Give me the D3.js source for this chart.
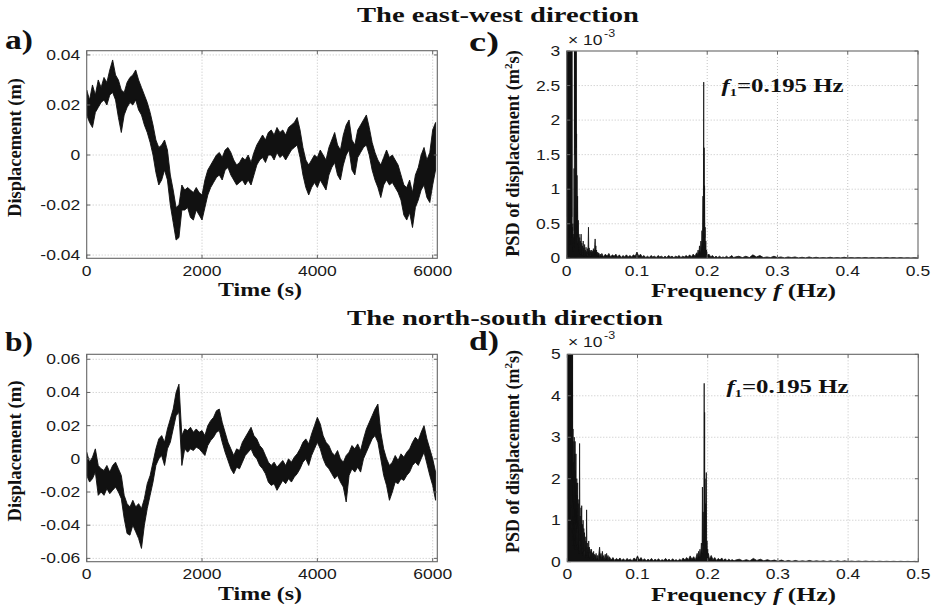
<!DOCTYPE html>
<html>
<head>
<meta charset="utf-8">
<script src="https://cdn.jsdelivr.net/npm/d3@7"></script>
<style>
  body { margin: 0; background: #fff; }
  svg { display: block; }
</style>
</head>
<body>
<svg id="fig" width="936" height="610"></svg>
<script>
// ---------------------------------------------------------------
// Displacement records (m): peak and trough read in each 50 s window
// ---------------------------------------------------------------
const windowStart = d3.range(0, 6100, 50);   // 0 ... 6050 s

const ewPeak = [
  0.026, 0.022, 0.028, 0.024, 0.030, 0.027, 0.031, 0.029, 0.034, 0.038,
  0.032, 0.030, 0.026, 0.025, 0.029, 0.031, 0.032, 0.034, 0.030, 0.027,
  0.024, 0.021, 0.017, 0.012, 0.006, 0.003, 0.004, 0.006, 0.002, -0.008,
  -0.014, -0.021, -0.020, -0.012, -0.014, -0.013, -0.014, -0.015, -0.013, -0.015,
  -0.016, -0.010, -0.006, -0.004, -0.002, 0.000, 0.001, -0.001, 0.002, 0.003,
  0.001, -0.002, -0.004, -0.003, -0.001, -0.002, 0.000, -0.003, 0.001, 0.004,
  0.006, 0.008, 0.006, 0.009, 0.010, 0.008, 0.011, 0.009, 0.010, 0.008,
  0.011, 0.012, 0.013, 0.015, 0.010, 0.003, -0.002, -0.004, -0.002, 0.000,
  -0.001, 0.002, 0.000, -0.002, 0.003, 0.006, 0.009, 0.004, 0.002, 0.008,
  0.012, 0.014, 0.006, 0.004, 0.010, 0.012, 0.014, 0.016, 0.011, 0.005,
  0.001, -0.002, -0.004, -0.001, 0.002, -0.001, 0.000, -0.002, -0.004, -0.008,
  -0.012, -0.013, -0.010, -0.015, -0.008, -0.005, 0.000, 0.003, -0.002, 0.001,
  0.010, 0.013
];
const ewTrough = [
  0.016, 0.013, 0.011, 0.017, 0.019, 0.021, 0.022, 0.020, 0.024, 0.025,
  0.022, 0.015, 0.009, 0.016, 0.019, 0.021, 0.020, 0.022, 0.018, 0.016,
  0.012, 0.009, 0.005, 0.000, -0.007, -0.012, -0.010, -0.006, -0.010, -0.020,
  -0.027, -0.034, -0.033, -0.022, -0.022, -0.021, -0.025, -0.026, -0.022, -0.024,
  -0.026, -0.021, -0.016, -0.013, -0.011, -0.009, -0.008, -0.010, -0.006, -0.005,
  -0.008, -0.010, -0.012, -0.011, -0.010, -0.012, -0.010, -0.012, -0.008, -0.004,
  -0.002, -0.001, -0.003, 0.000, 0.000, -0.002, 0.001, -0.001, 0.000, -0.002,
  0.000, 0.002, 0.003, 0.004, -0.001, -0.008, -0.013, -0.016, -0.013, -0.011,
  -0.013, -0.010, -0.012, -0.014, -0.008, -0.005, -0.003, -0.008, -0.010, -0.004,
  0.000, 0.002, -0.006, -0.008, -0.001, 0.001, 0.003, 0.004, 0.000, -0.006,
  -0.010, -0.013, -0.017, -0.012, -0.010, -0.012, -0.011, -0.013, -0.015, -0.018,
  -0.024, -0.026, -0.023, -0.029, -0.021, -0.018, -0.014, -0.012, -0.017, -0.019,
  -0.012, -0.006
];

const nsPeak = [
  0.004, -0.002, 0.001, 0.006, -0.004, -0.006, -0.007, -0.004, -0.008, -0.004,
  -0.002, -0.006, -0.010, -0.022, -0.027, -0.029, -0.025, -0.029, -0.027, -0.030,
  -0.024, -0.015, -0.010, -0.002, 0.006, 0.012, 0.014, 0.010, 0.018, 0.024,
  0.030, 0.040, 0.045, 0.014, 0.018, 0.017, 0.019, 0.016, 0.018, 0.016,
  0.017, 0.014, 0.020, 0.023, 0.025, 0.029, 0.030, 0.022, 0.016, 0.010,
  0.006, 0.002, 0.006, 0.005, 0.010, 0.013, 0.016, 0.019, 0.014, 0.012,
  0.008, 0.006, 0.002, -0.002, -0.004, -0.002, -0.005, -0.003, -0.001, -0.004,
  0.000, -0.002, 0.001, 0.003, 0.006, 0.010, 0.012, 0.009, 0.015, 0.020,
  0.025, 0.021, 0.014, 0.010, 0.008, 0.004, 0.002, 0.005, 0.000, -0.002,
  0.002, 0.004, 0.008, 0.006, 0.009, 0.005, 0.012, 0.018, 0.022, 0.026,
  0.030, 0.033, 0.016, 0.006, 0.000, -0.004, -0.002, 0.002, -0.001, 0.003,
  0.001, 0.004, 0.006, 0.010, 0.013, 0.011, 0.016, 0.020, 0.012, 0.006,
  0.000, -0.008
];
const nsTrough = [
  -0.010, -0.014, -0.012, -0.008, -0.022, -0.020, -0.022, -0.018, -0.021, -0.019,
  -0.017, -0.020, -0.024, -0.036, -0.045, -0.046, -0.040, -0.044, -0.048, -0.054,
  -0.040, -0.030, -0.022, -0.014, -0.004, 0.000, 0.002, -0.004, 0.006, 0.010,
  0.018, 0.026, 0.028, -0.004, 0.006, 0.004, 0.006, 0.005, 0.007, 0.006,
  0.004, 0.002, 0.008, 0.011, 0.013, 0.016, 0.017, 0.010, 0.004, -0.001,
  -0.006, -0.009, -0.005, -0.006, -0.002, 0.002, 0.004, 0.006, 0.002, 0.000,
  -0.004, -0.006, -0.009, -0.014, -0.016, -0.015, -0.019, -0.016, -0.013, -0.015,
  -0.012, -0.014, -0.011, -0.009, -0.006, -0.002, 0.000, -0.004, 0.002, 0.006,
  0.010, 0.006, 0.000, -0.004, -0.006, -0.009, -0.012, -0.010, -0.014, -0.017,
  -0.026, -0.010, -0.006, -0.008, -0.005, -0.008, 0.000, 0.004, 0.008, 0.012,
  0.014, 0.010, 0.000, -0.010, -0.016, -0.025, -0.020, -0.014, -0.015, -0.012,
  -0.013, -0.010, -0.008, -0.004, -0.002, -0.004, 0.000, 0.004, -0.003, -0.010,
  -0.016, -0.025
];

// ---------------------------------------------------------------
// Power spectral density of displacement, [frequency (Hz), PSD (x 1e-3 m^2 s)]
// ---------------------------------------------------------------
const psdEW = [
  [0,1.4],[0.0003,9],[0.0006,0.6],[0.0009,14],[0.0012,1.1],[0.0015,11],[0.0018,0.4],[0.0021,18],
  [0.0024,0.9],[0.0027,7],[0.003,0.3],[0.0033,12],[0.0036,0.7],[0.0039,9],[0.0042,0.2],[0.0045,6],
  [0.0048,0.5],[0.0051,8],[0.0054,0.3],[0.0057,5],[0.006,0.8],[0.0063,6.5],[0.0066,0.2],[0.0069,4.5],
  [0.0072,0.6],[0.0075,3.8],[0.0078,0.3],[0.0081,0.45],[0.0084,0.15],[0.0087,0.5],[0.009,0.2],
  [0.0093,0.35],[0.0096,0.1],[0.0099,0.3],[0.0102,0.15],[0.0105,1.3],[0.0108,0.4],[0.0111,5],
  [0.0114,1.5],[0.0117,8],[0.012,1.7],[0.0123,6],[0.0126,1.8],[0.0129,4.2],[0.0132,1.0],[0.0135,3.4],
  [0.0138,1.6],[0.0141,1.8],[0.0144,0.6],[0.0147,1.2],[0.015,0.3],[0.0155,0.9],[0.016,0.2],
  [0.0165,0.55],[0.017,0.15],[0.0175,0.35],[0.018,0.1],[0.0185,0.3],[0.019,0.05],[0.0195,0.25],
  [0.02,0.08],[0.0205,0.35],[0.021,0.06],[0.0215,0.22],[0.022,0.04],[0.0225,0.18],[0.023,0.07],
  [0.0235,0.25],[0.024,0.05],[0.0245,0.15],[0.025,0.03],[0.0255,0.2],[0.026,0.06],[0.0265,0.12],
  [0.027,0.04],[0.0275,0.16],[0.028,0.05],[0.0285,0.1],[0.029,0.03],[0.0295,0.14],[0.03,0.06],
  [0.0305,0.2],[0.031,0.45],[0.0315,0.08],[0.032,0.15],[0.0325,0.04],[0.033,0.12],[0.0335,0.05],
  [0.034,0.1],[0.0345,0.03],[0.035,0.12],[0.0355,0.05],[0.036,0.09],[0.0365,0.04],[0.037,0.11],
  [0.0375,0.05],[0.038,0.14],[0.0385,0.06],[0.039,0.12],[0.0395,0.08],[0.04,0.2],[0.0405,0.28],
  [0.041,0.1],[0.0415,0.18],[0.042,0.05],[0.0425,0.12],[0.043,0.04],[0.0435,0.09],[0.044,0.03],
  [0.045,0.08],[0.0455,0.03],[0.046,0.07],[0.047,0.02],[0.048,0.06],[0.049,0.03],[0.05,0.07],
  [0.0525,0.02],[0.055,0.06],[0.0575,0.03],[0.06,0.07],[0.0625,0.02],[0.065,0.05],[0.0675,0.03],
  [0.07,0.06],[0.0725,0.02],[0.075,0.05],[0.0775,0.01],[0.08,0.04],[0.0825,0.02],[0.085,0.05],
  [0.0875,0.02],[0.09,0.04],[0.0925,0.02],[0.095,0.05],[0.0975,0.03],[0.1,0.09],[0.1025,0.03],
  [0.105,0.06],[0.1075,0.02],[0.11,0.04],[0.1125,0.01],[0.115,0.03],[0.1175,0.01],[0.12,0.04],
  [0.1225,0.02],[0.125,0.03],[0.1275,0.01],[0.13,0.04],[0.1325,0.02],[0.135,0.03],[0.1375,0.01],
  [0.14,0.03],[0.1425,0.01],[0.145,0.04],[0.1475,0.02],[0.15,0.03],[0.1525,0.01],[0.155,0.03],
  [0.1575,0.02],[0.16,0.04],[0.1625,0.01],[0.165,0.03],[0.1675,0.02],[0.17,0.04],[0.1725,0.02],
  [0.175,0.05],[0.1775,0.02],[0.18,0.06],[0.1825,0.03],[0.185,0.08],
  [0.186,0.04],[0.187,0.12],[0.188,0.05],[0.189,0.18],[0.19,0.08],[0.191,0.25],[0.192,0.12],
  [0.1925,0.4],[0.193,0.2],[0.1935,0.45],[0.194,0.9],[0.1945,0.3],[0.195,2.55],[0.1953,0.6],
  [0.1956,1.6],[0.1959,0.4],[0.1962,1.05],[0.1966,0.3],[0.197,0.45],[0.1975,0.15],[0.198,0.25],
  [0.1985,0.08],[0.199,0.12],[0.2,0.04],
  [0.2025,0.06],[0.205,0.02],[0.2075,0.04],[0.21,0.01],[0.2125,0.03],[0.215,0.01],[0.2175,0.03],
  [0.22,0.01],[0.2225,0.02],[0.225,0.01],[0.2275,0.03],[0.23,0.01],[0.2325,0.02],[0.235,0.04],
  [0.2375,0.01],[0.24,0.02],
  [0.245,0.03],[0.25,0.01],[0.255,0.03],[0.26,0.01],[0.265,0.05],[0.27,0.02],[0.275,0.04],[0.28,0.01],
  [0.285,0.02],[0.29,0.01],[0.295,0.03],[0.3,0.01],[0.305,0.02],[0.31,0.005],[0.315,0.02],[0.32,0.01],
  [0.325,0.02],[0.33,0.005],[0.335,0.015],[0.34,0.005],[0.345,0.02],[0.35,0.005],[0.355,0.015],
  [0.36,0.005],[0.365,0.01],[0.37,0.005],[0.375,0.015],[0.38,0.005],[0.385,0.01],[0.39,0.005],
  [0.395,0.015],[0.4,0.005],[0.405,0.01],[0.41,0.005],[0.415,0.01],[0.42,0.005],[0.425,0.012],
  [0.43,0.004],[0.435,0.01],[0.44,0.004],[0.445,0.01],[0.45,0.004],[0.455,0.012],[0.46,0.004],
  [0.465,0.01],[0.47,0.003],[0.475,0.01],[0.48,0.003],[0.485,0.008],[0.49,0.003],[0.495,0.008],[0.5,0.003]
];

const psdNS = [
  [0,2.2],[0.0003,12],[0.0006,1.5],[0.0009,20],[0.0012,3.9],[0.0015,16],[0.0018,0.8],[0.0021,25],
  [0.0024,2.4],[0.0027,14],[0.003,1.2],[0.0033,11],[0.0036,3.9],[0.0039,18],[0.0042,0.6],[0.0045,9],
  [0.0048,1.8],[0.0051,13],[0.0054,0.9],[0.0057,8],[0.006,2.1],[0.0063,7],[0.0066,0.5],[0.0069,6.5],
  [0.0072,1.3],[0.0075,5.5],[0.0078,0.4],[0.0081,3.2],[0.0084,0.6],[0.0087,2.4],[0.009,0.3],
  [0.0093,2.9],[0.0096,0.8],[0.0099,3.0],[0.0102,0.4],[0.0105,2.6],[0.0108,1.0],[0.0111,2.9],
  [0.0114,0.5],[0.0117,2.2],[0.012,0.9],[0.0123,2.6],[0.0126,0.3],[0.0129,1.9],[0.0132,0.7],
  [0.0135,2.0],[0.0138,0.4],[0.0141,1.6],[0.0144,0.8],[0.0147,1.9],[0.015,0.3],[0.0155,1.4],
  [0.016,0.6],[0.0165,1.5],[0.017,0.2],[0.0175,2.85],[0.018,0.5],[0.0185,1.1],[0.019,0.3],
  [0.0195,1.3],[0.02,0.4],[0.0205,1.35],[0.021,0.2],[0.0215,0.9],[0.022,0.3],[0.0225,1.0],
  [0.023,0.15],[0.0235,0.8],[0.024,0.25],[0.0245,0.7],[0.025,0.1],[0.0255,0.6],[0.026,0.2],
  [0.0265,0.5],[0.027,0.15],[0.0275,1.25],[0.028,0.2],[0.0285,0.45],[0.029,0.1],[0.0295,0.35],
  [0.03,0.15],[0.0305,0.5],[0.031,0.1],[0.0315,0.35],[0.032,0.2],[0.0325,0.3],[0.033,0.08],
  [0.0335,0.25],[0.034,0.1],[0.0345,0.3],[0.035,0.12],[0.0355,0.22],[0.036,0.06],[0.0365,0.2],
  [0.037,0.1],[0.0375,0.25],[0.038,0.08],[0.0385,0.18],[0.039,0.05],[0.0395,0.16],[0.04,0.1],
  [0.041,0.2],[0.042,0.06],[0.043,0.15],[0.044,0.05],[0.045,0.2],[0.046,0.35],[0.047,0.1],
  [0.048,0.2],[0.049,0.06],[0.05,0.25],[0.051,0.08],[0.052,0.15],[0.053,0.05],[0.054,0.18],
  [0.055,0.06],[0.056,0.2],[0.057,0.08],[0.058,0.15],[0.059,0.05],[0.06,0.12],
  [0.0625,0.04],[0.065,0.1],[0.0675,0.03],[0.07,0.08],[0.0725,0.04],[0.075,0.09],[0.0775,0.03],
  [0.08,0.07],[0.0825,0.02],[0.085,0.08],[0.0875,0.04],[0.09,0.06],[0.0925,0.02],[0.095,0.09],
  [0.0975,0.05],[0.1,0.14],[0.1025,0.04],[0.105,0.1],[0.1075,0.03],[0.11,0.07],[0.1125,0.02],
  [0.115,0.06],[0.1175,0.03],[0.12,0.08],[0.1225,0.02],[0.125,0.06],[0.1275,0.03],[0.13,0.07],
  [0.1325,0.02],[0.135,0.05],[0.1375,0.03],[0.14,0.08],[0.1425,0.03],[0.145,0.06],[0.1475,0.02],
  [0.15,0.07],[0.1525,0.03],[0.155,0.05],[0.1575,0.02],[0.16,0.06],[0.1625,0.03],[0.165,0.09],
  [0.1675,0.04],[0.17,0.1],[0.1725,0.05],[0.175,0.14],[0.1775,0.06],[0.18,0.12],[0.1825,0.05],
  [0.185,0.2],
  [0.186,0.08],[0.187,0.25],[0.188,0.1],[0.189,0.3],[0.19,0.12],[0.191,0.45],[0.192,0.2],
  [0.1925,1.8],[0.193,0.4],[0.1935,1.2],[0.194,0.6],[0.1945,0.5],[0.195,4.3],[0.1953,1.0],
  [0.1956,3.6],[0.1959,0.7],[0.1962,2.0],[0.1966,0.5],[0.197,1.4],[0.1975,0.4],[0.198,2.15],
  [0.1985,0.3],[0.199,0.5],[0.1995,0.15],[0.2,0.3],[0.2005,0.08],[0.201,0.2],
  [0.2025,0.06],[0.205,0.15],[0.2075,0.05],[0.21,0.1],[0.2125,0.03],[0.215,0.08],[0.2175,0.04],
  [0.22,0.09],[0.2225,0.03],[0.225,0.07],[0.2275,0.02],[0.23,0.06],[0.2325,0.03],[0.235,0.05],
  [0.2375,0.02],[0.24,0.04],
  [0.245,0.06],[0.25,0.02],[0.255,0.05],[0.26,0.02],[0.265,0.08],[0.27,0.03],[0.275,0.06],[0.28,0.02],
  [0.285,0.05],[0.29,0.02],[0.295,0.04],[0.3,0.01],[0.305,0.04],[0.31,0.01],[0.315,0.03],[0.32,0.01],
  [0.325,0.03],[0.33,0.01],[0.335,0.02],[0.34,0.01],[0.345,0.03],[0.35,0.01],[0.355,0.02],[0.36,0.01],
  [0.365,0.02],[0.37,0.005],[0.375,0.02],[0.38,0.005],[0.385,0.02],[0.39,0.005],[0.395,0.02],
  [0.4,0.005],[0.405,0.015],[0.41,0.005],[0.415,0.015],[0.42,0.005],[0.425,0.015],[0.43,0.005],
  [0.435,0.012],[0.44,0.004],[0.445,0.012],[0.45,0.004],[0.455,0.01],[0.46,0.004],[0.465,0.01],
  [0.47,0.003],[0.475,0.01],[0.48,0.003],[0.485,0.008],[0.49,0.003],[0.495,0.008],[0.5,0.003]
];

// ---------------------------------------------------------------
// Axis ticks and their labels
// ---------------------------------------------------------------
const timeTicks = [0, 2000, 4000, 6000];
const timeTickLabels = ['0', '2000', '4000', '6000'];
const ewTicks = [-0.04, -0.02, 0, 0.02, 0.04];
const ewTickLabels = ['-0.04', '-0.02', '0', '0.02', '0.04'];
const nsTicks = [-0.06, -0.04, -0.02, 0, 0.02, 0.04, 0.06];
const nsTickLabels = ['-0.06', '-0.04', '-0.02', '0', '0.02', '0.04', '0.06'];
const freqTicks = [0, 0.1, 0.2, 0.3, 0.4, 0.5];
const freqTickLabels = ['0', '0.1', '0.2', '0.3', '0.4', '0.5'];
const psdEWTicks = [0, 0.5, 1, 1.5, 2, 2.5, 3];
const psdEWTickLabels = ['0', '0.5', '1', '1.5', '2', '2.5', '3'];
const psdNSTicks = [0, 1, 2, 3, 4, 5];
const psdNSTickLabels = ['0', '1', '2', '3', '4', '5'];

// ---------------------------------------------------------------
// Drawing
// ---------------------------------------------------------------
const SERIF = '"Liberation Serif", "Times New Roman", serif';
const SANS = '"Liberation Sans", Arial, sans-serif';
const TICK_STRETCH = 1.25;
const INK = '#111';

const svg = d3.select('#fig');
svg.append('rect').attr('width', 936).attr('height', 610).attr('fill', '#fff');
const defs = svg.append('defs');

// Places bold serif text so that it spans a given width (or length, if rotated).
function fittedText(parent, o, build) {
  const g = parent.append('g');
  const t = g.append('text')
    .attr('font-family', SERIF)
    .attr('font-weight', 'bold')
    .attr('font-size', o.size)
    .attr('text-anchor', 'middle')
    .attr('fill', INK);
  build(t);
  const w = t.node().getBBox().width;
  const sx = o.width / w;
  g.attr('transform', `translate(${o.x},${o.y}) rotate(${o.rotate || 0}) scale(${sx},1)`);
  return g;
}

// Tick label in a horizontally widened sans face.
function tickText(parent, x, y, str, anchor, size) {
  return parent.append('text')
    .attr('transform', `translate(${x},${y}) scale(${TICK_STRETCH},1)`)
    .attr('text-anchor', anchor)
    .attr('font-family', SANS)
    .attr('font-size', size || 14)
    .attr('fill', '#1a1a1a')
    .text(str);
}

// Dense records: the band between the trough and peak of every window.
function bandPath(x, y) {
  return d3.area().x(d => x(d.t)).y0(d => y(d.lo)).y1(d => y(d.hi));
}
// Spectra: the curve, filled down to zero so dense stretches read as solid.
function spectrumPath(x, y) {
  return d3.area().x(d => x(d[0])).y0(y(0)).y1(d => y(d[1]));
}

function drawPanel(p) {
  const x = d3.scaleLinear().domain(p.xDomain).range([p.x0, p.x1]);
  const y = d3.scaleLinear().domain(p.yDomain).range([p.y1, p.y0]);
  const g = svg.append('g');

  // dotted grid
  const grid = g.append('g').attr('stroke', '#b5b5b5').attr('stroke-width', 0.8)
    .attr('stroke-dasharray', '1,2');
  grid.selectAll('line.v')
    .data(p.xTicks.filter(v => x(v) > p.x0 + 1.5 && x(v) < p.x1 - 1.5))
    .join('line').attr('class', 'v')
    .attr('x1', d => x(d)).attr('x2', d => x(d)).attr('y1', p.y0).attr('y2', p.y1);
  grid.selectAll('line.h')
    .data(p.yTicks.filter(v => y(v) > p.y0 + 1.5 && y(v) < p.y1 - 1.5))
    .join('line').attr('class', 'h')
    .attr('x1', p.x0).attr('x2', p.x1).attr('y1', d => y(d)).attr('y2', d => y(d));

  // data
  const cid = 'clip-' + p.id;
  defs.append('clipPath').attr('id', cid).append('rect')
    .attr('x', p.x0).attr('y', p.y0).attr('width', p.x1 - p.x0).attr('height', p.y1 - p.y0);
  g.append('path')
    .datum(p.data)
    .attr('clip-path', `url(#${cid})`)
    .attr('fill', INK)
    .attr('stroke', INK)
    .attr('stroke-width', p.lineWidth)
    .attr('stroke-linejoin', 'round')
    .attr('d', p.shape(x, y));

  // box
  g.append('rect')
    .attr('x', p.x0).attr('y', p.y0).attr('width', p.x1 - p.x0).attr('height', p.y1 - p.y0)
    .attr('fill', 'none').attr('stroke', '#666').attr('stroke-width', 1.1);

  // inward ticks on all sides
  const tk = g.append('g').attr('stroke', '#666').attr('stroke-width', 1);
  const L = 3.5;
  p.xTicks.forEach(v => {
    tk.append('line').attr('x1', x(v)).attr('x2', x(v)).attr('y1', p.y1).attr('y2', p.y1 - L);
    tk.append('line').attr('x1', x(v)).attr('x2', x(v)).attr('y1', p.y0).attr('y2', p.y0 + L);
  });
  p.yTicks.forEach(v => {
    tk.append('line').attr('x1', p.x0).attr('x2', p.x0 + L).attr('y1', y(v)).attr('y2', y(v));
    tk.append('line').attr('x1', p.x1).attr('x2', p.x1 - L).attr('y1', y(v)).attr('y2', y(v));
  });

  // tick labels
  p.xTicks.forEach((v, i) => tickText(g, x(v), p.xLabelBase, p.xTickLabels[i], 'middle'));
  p.yTicks.forEach((v, i) => tickText(g, p.x0 - 6.5, y(v) + 5, p.yTickLabels[i], 'end'));

  return { x, y, g };
}

const windows = (peaks, troughs) =>
  windowStart.map((t, i) => ({ t, hi: peaks[i], lo: troughs[i] }));

const panels = [
  { id: 'a', x0: 86.7, x1: 437.3, y0: 50.7, y1: 258.3,
    xDomain: [0, 6080], yDomain: [-0.0413, 0.0417],
    xTicks: timeTicks, xTickLabels: timeTickLabels,
    yTicks: ewTicks, yTickLabels: ewTickLabels, xLabelBase: 276,
    data: windows(ewPeak, ewTrough), shape: bandPath, lineWidth: 0.9 },
  { id: 'b', x0: 86.7, x1: 437.3, y0: 354.3, y1: 561.7,
    xDomain: [0, 6080], yDomain: [-0.062, 0.063],
    xTicks: timeTicks, xTickLabels: timeTickLabels,
    yTicks: nsTicks, yTickLabels: nsTickLabels, xLabelBase: 579,
    data: windows(nsPeak, nsTrough), shape: bandPath, lineWidth: 0.9 },
  { id: 'c', x0: 566.7, x1: 918, y0: 51, y1: 258.3,
    xDomain: [0, 0.5], yDomain: [0, 3],
    xTicks: freqTicks, xTickLabels: freqTickLabels,
    yTicks: psdEWTicks, yTickLabels: psdEWTickLabels, xLabelBase: 276,
    data: psdEW, shape: spectrumPath, lineWidth: 0.8 },
  { id: 'd', x0: 567.3, x1: 918.3, y0: 354.3, y1: 561.7,
    xDomain: [0, 0.5], yDomain: [0, 5],
    xTicks: freqTicks, xTickLabels: freqTickLabels,
    yTicks: psdNSTicks, yTickLabels: psdNSTickLabels, xLabelBase: 579,
    data: psdNS, shape: spectrumPath, lineWidth: 0.8 }
];

panels.forEach(drawPanel);

// ---------------------------------------------------------------
// Titles, panel letters, axis labels, annotations
// ---------------------------------------------------------------
const labels = svg.append('g');

fittedText(labels, { x: 498, y: 22, width: 282, size: 20 }, t => t.text('The east-west direction'));
fittedText(labels, { x: 505, y: 325, width: 316, size: 20 }, t => t.text('The north-south direction'));

fittedText(labels, { x: 19, y: 49, width: 28, size: 27 }, t => t.text('a)'));
fittedText(labels, { x: 484, y: 51, width: 30, size: 27 }, t => t.text('c)'));
fittedText(labels, { x: 19, y: 350.5, width: 28, size: 27 }, t => t.text('b)'));
fittedText(labels, { x: 484, y: 350, width: 30, size: 27 }, t => t.text('d)'));

// x-axis titles
[296, 600].forEach(base => {
  fittedText(labels, { x: 260, y: base, width: 84, size: 19 }, t => t.text('Time (s)'));
  fittedText(labels, { x: 743.5, y: base + 1, width: 185, size: 19 }, t => {
    t.append('tspan').text('Frequency ');
    t.append('tspan').attr('font-style', 'italic').text('f');
    t.append('tspan').text(' (Hz)');
  });
});

// y-axis titles
fittedText(labels, { x: 21, y: 147.5, width: 139, size: 18, rotate: -90 }, t => t.text('Displacement (m)'));
fittedText(labels, { x: 21, y: 451, width: 141, size: 18, rotate: -90 }, t => t.text('Displacement (m)'));
[[153.5, 207], [451.5, 203]].forEach(([cy, len]) => {
  fittedText(labels, { x: 519, y: cy, width: len, size: 18, rotate: -90 }, t => {
    t.append('tspan').text('PSD of displacement (m');
    t.append('tspan').attr('font-size', 11).attr('dy', -7).text('2');
    t.append('tspan').attr('dy', 7).text('s)');
  });
});

// exponent markers above the PSD axes
[[568, 45], [568, 347]].forEach(([ex, ey]) => {
  tickText(labels, ex, ey, '× 10', 'start', 14);
  tickText(labels, ex + 36, ey - 8, '-3', 'start', 10);
});

// dominant frequency annotations
[[782.5, 92], [787.5, 393]].forEach(([ax, ay]) => {
  fittedText(labels, { x: ax, y: ay, width: 123, size: 19 }, t => {
    t.append('tspan').attr('font-style', 'italic').text('f');
    t.append('tspan').attr('font-size', 11).attr('dy', 4).text('1');
    t.append('tspan').attr('dy', -4).text('=0.195 Hz');
  });
});
</script>
</body>
</html>
